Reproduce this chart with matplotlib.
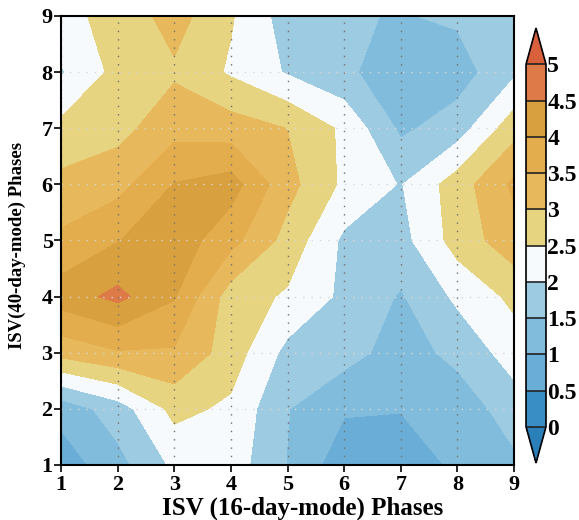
import numpy as np
import matplotlib
matplotlib.use('Agg')
import matplotlib.pyplot as plt

plt.rcParams['font.family'] = ['Liberation Serif', 'DejaVu Serif']
plt.rcParams['font.weight'] = 'bold'

phases = [1, 2, 3, 4, 5, 6, 7, 8, 9]

# rows = 40-day-mode phase 1..9, columns = 16-day-mode phase 1..9
row_1 = [0.71, 1.33, 2.10, 2.26, 1.48, 0.68, 0.75, 1.08, 1.39]
row_2 = [1.18, 1.75, 2.65, 2.40, 1.52, 1.06, 1.02, 1.20, 1.75]
row_3 = [3.18, 3.45, 3.44, 2.76, 1.85, 1.70, 1.27, 1.64, 2.23]
row_4 = [4.25, 4.63, 4.04, 2.75, 2.43, 1.89, 1.45, 2.10, 2.62]
row_5 = [3.60, 3.98, 4.30, 3.67, 2.82, 1.90, 1.82, 2.71, 3.30]
row_6 = [3.14, 3.33, 4.02, 4.22, 3.17, 2.40, 1.97, 2.75, 3.60]
row_7 = [2.63, 2.83, 3.33, 3.24, 2.99, 2.40, 1.40, 1.75, 2.80]
row_8 = [1.95, 2.655, 2.92, 2.43, 1.95, 1.60, 1.20, 1.26, 1.91]
row_9 = [2.35, 2.67, 3.21, 2.55, 1.76, 1.55, 1.47, 1.58, 1.80]

levels = [0, 0.5, 1, 1.5, 2, 2.5, 3, 3.5, 4, 4.5, 5]
colors = ['#2b7fb9', '#3a8ec6', '#6aaed8', '#82bcdc', '#9dcbe2', '#f6fafd',
          '#e7d480', '#e8b95c', '#e3ac4c', '#d9a03f', '#dd7a47', '#d8603c']

Z = np.array([row_1, row_2, row_3, row_4, row_5, row_6, row_7, row_8, row_9])
X, Y = np.meshgrid(phases, phases)

fig = plt.figure(figsize=(5.79, 5.20), dpi=100)
ax = fig.add_axes([0.1054, 0.1058, 0.7824, 0.8635])
cs = ax.contourf(X, Y, Z, levels=levels, colors=colors, extend='both')

ax.set_xlim(1, 9)
ax.set_ylim(1, 9)
ax.set_xticks(phases)
ax.set_yticks(phases)
ax.xaxis.grid(True, color='#707070', linestyle=(0, (1, 5)), linewidth=1)
ax.yaxis.grid(True, color='#d8d8d8', linestyle=(0, (1, 5)), linewidth=1)
ax.tick_params(axis='both', direction='out', length=5, width=1.2, labelsize=16)
ax.tick_params(axis='x', pad=2)
ax.tick_params(axis='y', pad=1)
for sp in ax.spines.values():
    sp.set_linewidth(1.5)

ax.set_xlabel('ISV (16-day-mode) Phases', fontsize=18, fontweight='bold')
ax.xaxis.set_label_coords(0.534, -0.07)
ax.set_ylabel('ISV(40-day-mode) Phases', fontsize=13.5, fontweight='bold')
ax.yaxis.set_label_coords(-0.078, 0.49)

cax = fig.add_axes([0.9085, 0.1096, 0.0345, 0.8365])
cbar = fig.colorbar(cs, cax=cax, extendfrac=0.1, drawedges=True, ticks=levels)
cbar.outline.set_linewidth(1.2)
cbar.dividers.set_linewidth(1.2)
cbar.dividers.set_color('#222222')
cbar.ax.set_yticklabels([f'{v:g}' for v in levels])
cbar.ax.tick_params(length=0, pad=1, labelsize=17)

fig.savefig('out.png', dpi=100)
